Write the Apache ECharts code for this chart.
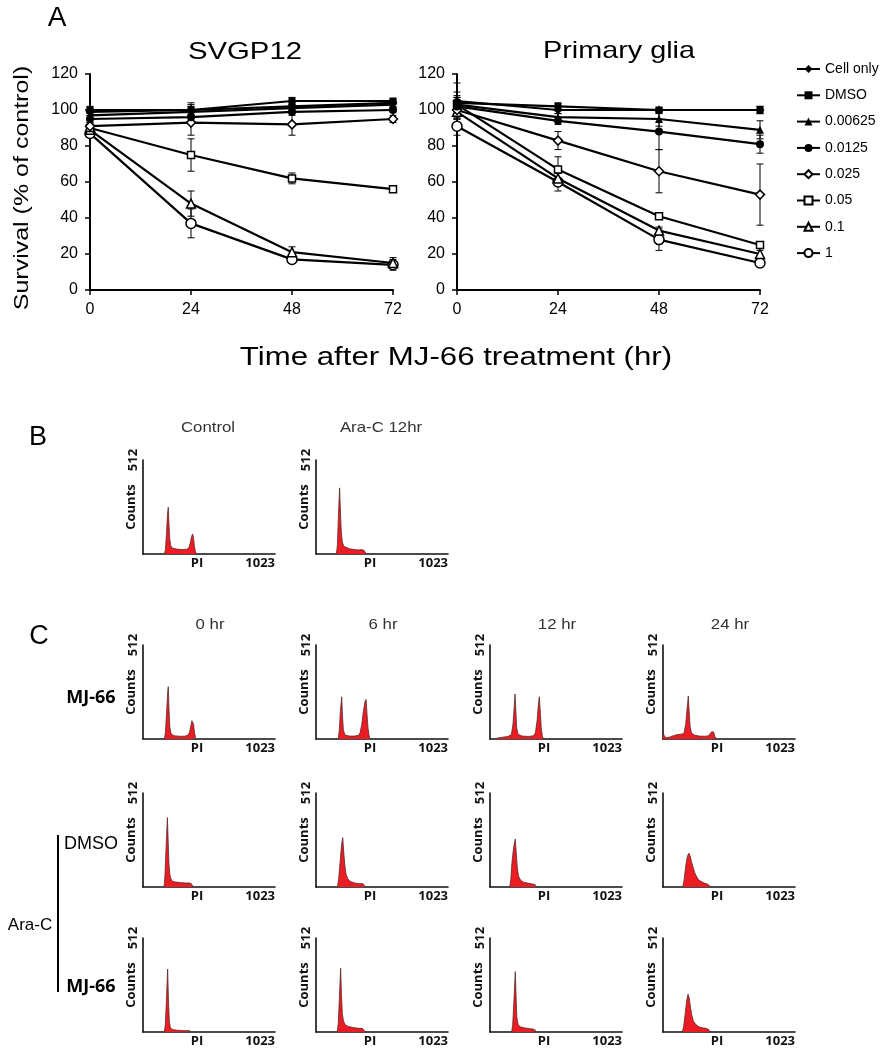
<!DOCTYPE html>
<html><head><meta charset="utf-8">
<script src="https://cdn.jsdelivr.net/npm/echarts@6/dist/echarts.min.js"></script>
<style>html,body{margin:0;padding:0;background:#fff}#c{width:882px;height:1050px}</style>
</head><body><div id="c"></div>
<script>
// ---------- Panel A data ----------
const timePoints = [0, 24, 48, 72];
const doseNames = ['Cell only', 'DMSO', '0.00625', '0.0125', '0.025', '0.05', '0.1', '1'];
const yTicksA = [0, 20, 40, 60, 80, 100, 120];

// SVGP12 survival (% of control)
const svg_cellOnly = [99, 100, 102, 104];
const svg_dmso     = [100, 100, 105, 105];
const svg_d00625   = [97, 99, 101, 103];
const svg_d0125    = [95, 96, 99, 100];
const svg_d025     = [91, 93, 92, 95];
const svg_d05      = [90, 75, 62, 56];
const svg_d1       = [89, 48, 21, 15];
const svg_d10      = [87, 37, 17, 14];
// SVGP12 error (±)
const svgErr_cellOnly = [2, 4, 2, 1];
const svgErr_dmso     = [2, 3, 2, 1];
const svgErr_d00625   = [2, 3, 2, 1];
const svgErr_d0125    = [2, 3, 2, 1];
const svgErr_d025     = [2, 7, 6, 2];
const svgErr_d05      = [2, 9, 3, 1];
const svgErr_d1       = [2, 7, 3, 3];
const svgErr_d10      = [2, 8, 2, 3];

// Primary glia survival (% of control)
const glia_cellOnly = [105, 100, 100, 100];
const glia_dmso     = [104, 102, 100, 100];
const glia_d00625   = [103, 96, 95, 89];
const glia_d0125    = [102, 94, 88, 81];
const glia_d025     = [100, 83, 66, 53];
const glia_d05      = [103, 67, 41, 25];
const glia_d1       = [99, 62, 33, 20];
const glia_d10      = [91, 60, 28, 15];
// Primary glia error (±)
const gliaErr_cellOnly = [10, 2, 1, 2];
const gliaErr_dmso     = [6, 2, 1, 2];
const gliaErr_d00625   = [5, 2, 4, 5];
const gliaErr_d0125    = [5, 2, 10, 5];
const gliaErr_d025     = [5, 5, 12, 17];
const gliaErr_d05      = [4, 7, 1, 1];
const gliaErr_d1       = [4, 3, 2, 2];
const gliaErr_d10      = [5, 5, 6, 2];

// ---------- Panels B / C : PI histograms [channel, counts] ----------
const histB_control = [[166,0],[174,25],[182,110],[190,220],[196,255],[201,170],[207,85],[215,45],[230,31],[260,27],[300,24],[340,26],[356,34],[366,60],[376,95],[385,109],[392,85],[399,40],[407,12],[416,0]];
const histB_araC12 = [[158,0],[166,50],[174,210],[183,360],[189,240],[196,120],[204,65],[215,42],[230,32],[260,28],[300,24],[330,22],[350,24],[362,26],[372,20],[382,10],[390,0]];

const histC_mj66_0h = [[166,0],[174,35],[183,150],[192,260],[196,285],[201,170],[208,65],[218,28],[240,18],[280,15],[320,15],[346,20],[360,35],[370,70],[379,100],[385,109],[392,80],[399,35],[407,10],[416,0]];
const histC_mj66_6h = [[172,0],[180,45],[189,150],[199,230],[205,130],[212,50],[224,22],[260,16],[300,16],[330,20],[342,35],[355,80],[367,150],[380,205],[388,216],[395,140],[403,60],[411,20],[419,0]];
const histC_mj66_12h = [[40,0],[60,6],[100,10],[140,14],[166,25],[178,80],[187,170],[194,245],[200,160],[207,60],[218,25],[250,16],[300,14],[338,18],[352,35],[365,100],[374,180],[382,230],[389,160],[397,60],[406,15],[414,0]];
const histC_mj66_24h = [[0,40],[8,20],[20,8],[50,10],[80,18],[110,24],[140,26],[162,30],[176,80],[186,160],[196,234],[203,150],[210,70],[220,35],[240,22],[280,16],[320,15],[352,17],[366,25],[377,40],[386,49],[393,38],[401,15],[410,4],[416,0]];

const histC_araDmso_0h = [[163,0],[170,60],[179,220],[189,378],[195,250],[201,130],[208,70],[216,45],[227,32],[250,27],[290,24],[330,22],[355,22],[372,20],[382,10],[390,0]];
const histC_araDmso_6h = [[166,0],[175,40],[186,130],[198,230],[207,269],[215,190],[223,120],[233,70],[246,45],[265,30],[300,22],[340,18],[365,18],[375,10],[382,0]];
const histC_araDmso_12h = [[153,0],[161,40],[171,140],[184,220],[196,261],[203,190],[211,110],[221,60],[236,38],[260,26],[300,20],[330,16],[348,14],[356,8],[362,0]];
const histC_araDmso_24h = [[153,0],[164,40],[177,120],[190,170],[201,184],[210,170],[220,140],[232,110],[245,80],[258,60],[275,40],[300,28],[325,20],[345,16],[355,15],[362,6],[368,0]];

const histC_araMj_0h = [[165,0],[173,40],[182,180],[191,343],[197,180],[204,60],[212,25],[226,14],[260,10],[300,8],[340,7],[358,10],[366,6],[372,0]];
const histC_araMj_6h = [[165,0],[173,50],[182,200],[191,347],[197,210],[204,100],[213,60],[226,40],[250,30],[290,24],[330,20],[360,20],[372,12],[382,0]];
const histC_araMj_12h = [[168,0],[176,40],[186,180],[196,329],[202,200],[208,80],[218,40],[236,28],[270,22],[310,18],[335,16],[345,18],[352,10],[358,0]];
const histC_araMj_24h = [[150,0],[160,30],[172,100],[183,170],[194,205],[203,185],[212,140],[222,95],[235,60],[255,40],[280,28],[310,22],[335,20],[345,22],[356,12],[366,0]];

const histTitlesB = ['Control', 'Ara-C 12hr'];
const histTitlesC = ['0 hr', '6 hr', '12 hr', '24 hr'];
const histXMax = 1023;
const histYMax = 512;

// ---------- build ----------
const chart = echarts.init(document.getElementById('c'), null, {renderer: 'canvas'});
const FA = '"Liberation Sans", Arial, sans-serif';
const FB = '"Open Sans", "Noto Sans", sans-serif';

const symbolDefs = [
  {symbol: 'diamond', size: 9, open: false},
  {symbol: 'rect', size: 7, open: false},
  {symbol: 'triangle', size: 8, open: false},
  {symbol: 'circle', size: 8, open: false},
  {symbol: 'diamond', size: 9, open: true},
  {symbol: 'rect', size: 7, open: true},
  {symbol: 'triangle', size: 9, open: true},
  {symbol: 'circle', size: 10, open: true}
];

const grids = [];
const xAxes = [];
const yAxes = [];
const series = [];

// Panel A grids
grids.push({left: 90, top: 74, width: 303, height: 216});
grids.push({left: 457, top: 74, width: 303, height: 216});
for (let g = 0; g < 2; g++) {
  xAxes.push({gridIndex: g, type: 'value', min: 0, max: 72, interval: 24,
    axisLine: {lineStyle: {color: '#000', width: 2}}, axisTick: {show: true, length: 5, lineStyle: {color: '#000', width: 1.5}},
    splitLine: {show: false}, axisLabel: {color: '#000', fontSize: 16, fontFamily: FA, margin: 12}});
  yAxes.push({gridIndex: g, type: 'value', min: yTicksA[0], max: yTicksA[yTicksA.length - 1], interval: 20,
    axisLine: {show: true, lineStyle: {color: '#000', width: 2}}, axisTick: {show: true, length: 5, lineStyle: {color: '#000', width: 1.5}},
    splitLine: {show: false}, axisLabel: {color: '#000', fontSize: 16, fontFamily: FA, margin: 12}});
}

const svgSets = [svg_cellOnly, svg_dmso, svg_d00625, svg_d0125, svg_d025, svg_d05, svg_d1, svg_d10];
const svgErrs = [svgErr_cellOnly, svgErr_dmso, svgErr_d00625, svgErr_d0125, svgErr_d025, svgErr_d05, svgErr_d1, svgErr_d10];
const gliaSets = [glia_cellOnly, glia_dmso, glia_d00625, glia_d0125, glia_d025, glia_d05, glia_d1, glia_d10];
const gliaErrs = [gliaErr_cellOnly, gliaErr_dmso, gliaErr_d00625, gliaErr_d0125, gliaErr_d025, gliaErr_d05, gliaErr_d1, gliaErr_d10];

function renderErr(params, api) {
  const x = api.value(0), y = api.value(1), e = api.value(2);
  const top = api.coord([x, y + e]);
  const bot = api.coord([x, y - e]);
  const w = 3.5;
  const st = {stroke: '#000', lineWidth: 1};
  return {type: 'group', children: [
    {type: 'line', shape: {x1: top[0], y1: top[1], x2: bot[0], y2: bot[1]}, style: st},
    {type: 'line', shape: {x1: top[0] - w, y1: top[1], x2: top[0] + w, y2: top[1]}, style: st},
    {type: 'line', shape: {x1: bot[0] - w, y1: bot[1], x2: bot[0] + w, y2: bot[1]}, style: st}
  ]};
}

[[svgSets, svgErrs], [gliaSets, gliaErrs]].forEach(([sets, errs], g) => {
  sets.forEach((vals, i) => {
    series.push({type: 'custom', name: 'err' + g + '_' + i, xAxisIndex: g, yAxisIndex: g, renderItem: renderErr,
      data: vals.map((v, k) => [timePoints[k], v, errs[i][k]]), encode: {x: 0, y: 1}, z: 1, silent: true});
  });
  sets.forEach((vals, i) => {
    const s = symbolDefs[i];
    series.push({type: 'line', name: doseNames[i], xAxisIndex: g, yAxisIndex: g,
      data: vals.map((v, k) => [timePoints[k], v]),
      symbol: s.symbol, symbolSize: s.size, showSymbol: true,
      lineStyle: {color: '#000', width: 2.2},
      itemStyle: {color: s.open ? '#fff' : '#000', borderColor: '#000', borderWidth: s.open ? 1.5 : 0},
      z: 3 + (7 - i) * 0.01});
  });
});

// Histogram grids
const colX = [143, 316, 490, 663];
const HW = 132, HH = 94;
const histPanels = [
  {row: 460, col: 0, data: histB_control},
  {row: 460, col: 1, data: histB_araC12},
  {row: 645, col: 0, data: histC_mj66_0h},
  {row: 645, col: 1, data: histC_mj66_6h},
  {row: 645, col: 2, data: histC_mj66_12h},
  {row: 645, col: 3, data: histC_mj66_24h},
  {row: 793, col: 0, data: histC_araDmso_0h},
  {row: 793, col: 1, data: histC_araDmso_6h},
  {row: 793, col: 2, data: histC_araDmso_12h},
  {row: 793, col: 3, data: histC_araDmso_24h},
  {row: 938, col: 0, data: histC_araMj_0h},
  {row: 938, col: 1, data: histC_araMj_6h},
  {row: 938, col: 2, data: histC_araMj_12h},
  {row: 938, col: 3, data: histC_araMj_24h}
];
const lblStyle = {color: '#111', fontSize: 13, fontWeight: 'bold', fontFamily: FB};
histPanels.forEach((p) => {
  const gi = grids.length;
  grids.push({left: colX[p.col], top: p.row, width: HW, height: HH});
  xAxes.push({gridIndex: gi, type: 'value', min: 0, max: histXMax,
    name: 'PI', nameLocation: 'middle', nameGap: 3, nameMoveOverlap: false,
    nameTextStyle: Object.assign({}, lblStyle, {verticalAlign: 'top', padding: [0, 24, 0, 0]}),
    axisLine: {lineStyle: {color: '#111', width: 1.6}}, axisTick: {show: false}, splitLine: {show: false},
    axisLabel: Object.assign({}, lblStyle, {customValues: [histXMax], formatter: (v) => (v >= histXMax ? String(histXMax) : ''), align: 'right', margin: 3, showMinLabel: false})});
  yAxes.push({gridIndex: gi, type: 'value', min: 0, max: histYMax,
    name: 'Counts', nameLocation: 'middle', nameRotate: 90, nameGap: 5, nameMoveOverlap: false, nameTextStyle: lblStyle,
    axisLine: {show: true, lineStyle: {color: '#111', width: 1.6}}, axisTick: {show: false}, splitLine: {show: false},
    axisLabel: Object.assign({}, lblStyle, {customValues: [histYMax], formatter: (v) => (v >= histYMax ? String(histYMax) : ''), rotate: 90, margin: 3, showMinLabel: false})});
  series.push({type: 'line', xAxisIndex: gi, yAxisIndex: gi, data: p.data, symbol: 'none', showSymbol: false,
    lineStyle: {color: '#5a2a2a', width: 0.8}, areaStyle: {color: '#ec1c24', opacity: 1}, silent: true, z: 2});
});

// Text elements
function txt(text, x, y, font, opts, fill) {
  return Object.assign({type: 'text', x: x, y: y, style: {text: text, font: font, fill: fill || '#000', align: 'center', verticalAlign: 'middle'}}, opts || {});
}
const graphics = [
  txt('A', 57, 18, '28px ' + FA),
  txt('SVGP12', 245, 52, '24px ' + FA, {scaleX: 1.22}),
  txt('Primary glia', 619, 51, '24px ' + FA, {scaleX: 1.2}),
  txt('Survival (% of control)', 22, 188, '21px ' + FA, {rotation: Math.PI / 2, scaleX: 1.19}),
  txt('Time after MJ-66 treatment (hr)', 456, 358, '26px ' + FA, {scaleX: 1.2}),
  txt('B', 38, 438, '27px ' + FA),
  txt('C', 39, 637, '27px ' + FA),
  txt('MJ-66', 91, 698, 'bold 18px ' + FB),
  txt('DMSO', 91, 844, '18px ' + FA),
  txt('MJ-66', 91, 987, 'bold 18px ' + FB),
  txt('Ara-C', 30, 925, '17px ' + FA),
  {type: 'line', shape: {x1: 58, y1: 835, x2: 58, y2: 992}, style: {stroke: '#000', lineWidth: 2}}
];
histTitlesB.forEach((t, i) => graphics.push(txt(t, colX[i] + 65, 428, '15px ' + FA, {scaleX: 1.12}, '#333')));
histTitlesC.forEach((t, i) => graphics.push(txt(t, colX[i] + 67, 625, '15px ' + FA, {scaleX: 1.12}, '#333')));

chart.setOption({
  animation: false,
  backgroundColor: '#fff',
  grid: grids,
  xAxis: xAxes,
  yAxis: yAxes,
  legend: {data: doseNames, orient: 'vertical', left: 796, top: 62, padding: 0, itemWidth: 23, itemHeight: 10, itemGap: 12.3,
    textStyle: {color: '#000', fontSize: 14, fontFamily: FA}, selectedMode: false},
  graphic: graphics,
  series: series
});
</script>
</body></html>
